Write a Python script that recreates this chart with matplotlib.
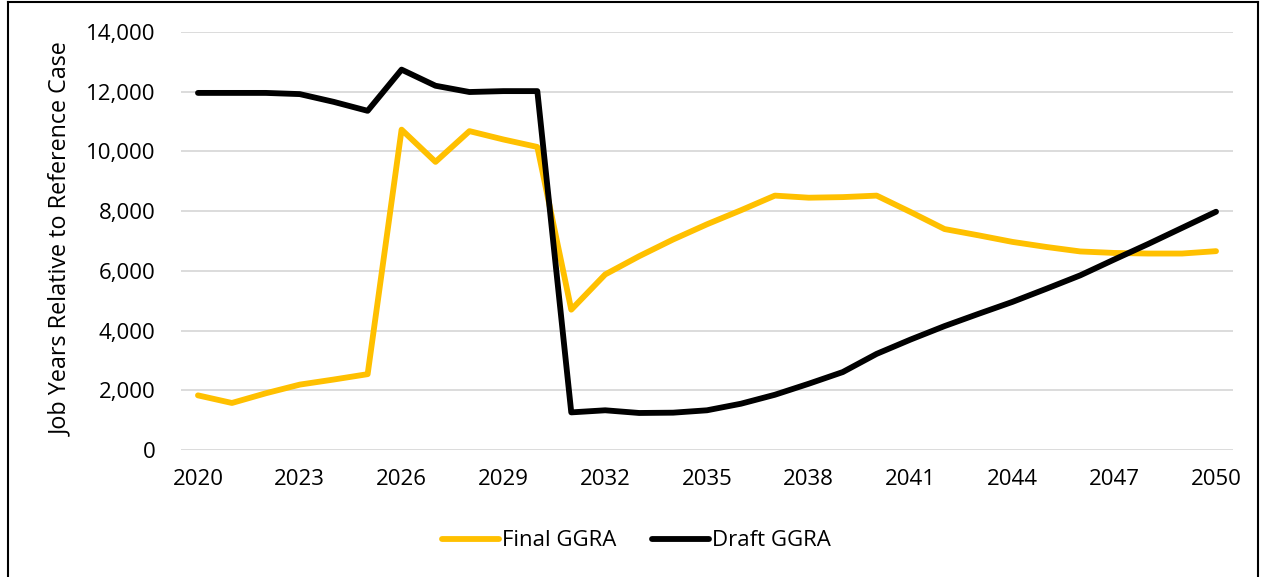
import matplotlib
matplotlib.use('Agg')
import matplotlib.pyplot as plt
from matplotlib.lines import Line2D
from matplotlib.ticker import FuncFormatter

plt.rcParams['font.family'] = ['Open Sans', 'DejaVu Sans']

# ── DATA ──────────────────────────────────────────────────────────────────────
years = list(range(2020, 2051))
final_ggra = [1830, 1575, 1900, 2190, 2360, 2540, 10730, 9650, 10680, 10400,
              10150, 4700, 5880, 6490, 7050, 7560, 8030, 8520, 8450, 8470,
              8520, 7970, 7400, 7190, 6970, 6800, 6650, 6600, 6580, 6580, 6660]
draft_ggra = [11960, 11960, 11960, 11920, 11660, 11360, 12740, 12200, 11990, 12020,
              12020, 1260, 1330, 1240, 1250, 1330, 1550, 1850, 2220, 2610,
              3220, 3700, 4150, 4560, 4960, 5400, 5850, 6380, 6900, 7440, 7980]
xtick_years = list(range(2020, 2051, 3))

YELLOW = "#FFC000"
BLACK = "#000000"
GRID = "#d9d9d9"
FS = 16

# ── LAYOUT ────────────────────────────────────────────────────────────────────
fig = plt.figure(figsize=(12.63, 5.77), dpi=100, facecolor='white')
ax = fig.add_axes([181/1263, 1 - 450/577, (1233 - 181)/1263, (450 - 32)/577])

ax.plot(years, final_ggra, color=YELLOW, lw=4.2, solid_joinstyle='round',
        solid_capstyle='round', zorder=3)
ax.plot(years, draft_ggra, color=BLACK, lw=4.2, solid_joinstyle='round',
        solid_capstyle='round', zorder=4)

ax.set_xlim(2019.5, 2050.5)
ax.set_ylim(0, 14000)
ax.set_yticks(range(0, 14001, 2000))
ax.yaxis.set_major_formatter(FuncFormatter(lambda v, p: f"{v:,.0f}"))
ax.set_xticks(xtick_years)
ax.grid(axis='y', color=GRID, lw=1.3, zorder=0)
ax.set_axisbelow(True)
for s in ax.spines.values():
    s.set_visible(False)
ax.tick_params(length=0, labelsize=FS, colors='black')
ax.tick_params(axis='y', pad=18.5)
ax.tick_params(axis='x', pad=14)
ax.set_ylabel("Job Years Relative to Reference Case", fontsize=16.8)
ax.yaxis.set_label_coords((73 - 181)/1052, 0.505)

# Legend below the plot
handles = [Line2D([], [], color=YELLOW, lw=4.2, solid_capstyle='round'),
           Line2D([], [], color=BLACK, lw=4.2, solid_capstyle='round')]
fig.legend(handles, ["Final GGRA", "Draft GGRA"], loc='center',
           bbox_to_anchor=(636/1263, 1 - 541/577), ncol=2, frameon=False,
           fontsize=FS, handlelength=2.6, handletextpad=0.1, columnspacing=1.6)

# Outer chart border
fig.add_artist(Line2D([8/1263, 8/1263], [0, 1 - 2/577], color='black', lw=1.5,
                      transform=fig.transFigure))
fig.add_artist(Line2D([1258/1263, 1258/1263], [0, 1 - 2/577], color='black', lw=1.5,
                      transform=fig.transFigure))
fig.add_artist(Line2D([8/1263, 1258/1263], [1 - 2/577, 1 - 2/577], color='black', lw=1.5,
                      transform=fig.transFigure))

plt.savefig('out.png', dpi=100, facecolor='white')
